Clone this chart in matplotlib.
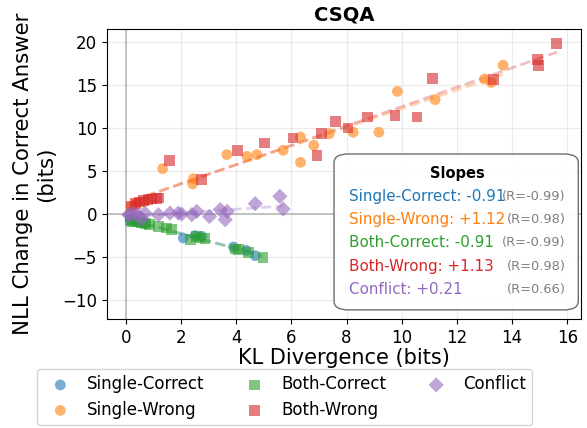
import matplotlib
matplotlib.use("Agg")
import matplotlib.pyplot as plt
import numpy as np
from matplotlib.patches import FancyBboxPatch

# data (KL in bits, NLL change in bits)
sc_x = [0.15, 0.3, 0.5, 0.7, 2.08, 2.51, 2.75, 3.9, 4.36, 4.69]
sc_y = [-0.7, -0.85, -1.0, -1.1, -2.8, -2.52, -2.6, -3.84, -4.23, -4.85]

sw_x = [0.2, 0.4, 0.7, 1.33, 2.45, 2.42, 3.66, 4.39, 4.75, 5.7, 6.33, 6.33, 6.81,
        7.37, 8.24, 9.17, 9.84, 11.21, 13.0, 13.24, 13.67]
sw_y = [0.9, 1.2, 1.5, 5.27, 4.1, 3.5, 6.9, 6.7, 6.9, 7.4, 8.95, 6.0, 7.98,
        9.34, 9.5, 9.5, 14.26, 13.3, 15.7, 15.3, 17.3]

bc_x = [0.15, 0.25, 0.4, 0.55, 0.7, 0.87, 1.18, 1.48, 1.66, 2.33, 2.57, 2.69, 2.87,
        3.96, 4.09, 4.45, 4.97]
bc_y = [-0.75, -0.86, -0.9, -1.0, -1.1, -1.2, -1.44, -1.63, -1.8, -2.99, -2.6, -2.8,
        -2.87, -4.07, -4.15, -4.46, -5.04]

bw_x = [0.2, 0.35, 0.5, 0.65, 0.8, 0.95, 1.1, 1.2, 1.58, 2.75, 4.05, 5.02, 6.06,
        6.93, 7.08, 7.6, 8.05, 8.75, 9.75, 10.55, 11.12, 13.32, 14.91, 14.96, 15.62]
bw_y = [0.9, 1.2, 1.4, 1.6, 1.7, 1.75, 1.8, 1.85, 6.24, 3.99, 7.36, 8.25, 8.83,
        6.78, 9.4, 10.77, 10.0, 11.27, 11.47, 11.27, 15.73, 15.6, 17.94, 17.28, 19.8]

cf_x = [0.1, 0.15, 0.3, 0.45, 0.57, 0.69, 1.18, 1.6, 1.9, 2.02, 2.39, 2.57, 3.03,
        3.42, 3.6, 3.67, 4.69, 5.58, 5.7]
cf_y = [-0.1, -0.08, 0.1, -0.2, -0.58, 0.1, -0.1, 0.1, 0.1, 0.0, -0.08, 0.3, -0.3,
        0.5, -0.66, 0.3, 1.2, 2.05, 0.58]

names = ["Single-Correct", "Single-Wrong", "Both-Correct", "Both-Wrong", "Conflict"]
slopes = ["-0.91", "+1.12", "-0.91", "+1.13", "+0.21"]
r_vals = ["-0.99", "0.98", "-0.99", "0.98", "0.66"]

colors = ["#1f77b4", "#ff7f0e", "#2ca02c", "#d62728", "#9467bd"]
markers = ["o", "o", "s", "s", "D"]
xs = [sc_x, sw_x, bc_x, bw_x, cf_x]
ys = [sc_y, sw_y, bc_y, bw_y, cf_y]

fig = plt.figure(figsize=(5.87, 4.28), dpi=100)
ax = fig.add_axes([0.182, 0.255, 0.808, 0.677])

ax.axhline(0, color="gray", lw=1.3, alpha=0.5, zorder=1)
ax.axvline(0, color="gray", lw=1.3, alpha=0.5, zorder=1)

for i in range(5):
    x = np.array(xs[i])
    y = np.array(ys[i])
    ax.scatter(x, y, s=60, c=colors[i], marker=markers[i], alpha=0.6,
               edgecolors="none", label=names[i], zorder=3)
    k, b = np.polyfit(x, y, 1)
    xx = np.linspace(x.min(), x.max(), 50)
    ax.plot(xx, k * xx + b, "--", color=colors[i], alpha=0.3, lw=2, zorder=2)

ax.set_xlim(-0.69, 16.5)
ax.set_ylim(-12.2, 21.5)
ax.set_xticks(range(0, 17, 2))
ax.set_yticks([-10, -5, 0, 5, 10, 15, 20])
ax.tick_params(labelsize=12)
ax.grid(True, alpha=0.25)
ax.set_title("CSQA", fontsize=14, fontweight="bold")
ax.set_xlabel("KL Divergence (bits)", fontsize=15, labelpad=1)
ax.set_ylabel("NLL Change in Correct Answer\n(bits)", fontsize=15.3)

# slope box
box = FancyBboxPatch((0.479, 0.031), 0.515, 0.538, transform=ax.transAxes,
                     boxstyle="round,pad=0,rounding_size=0.03",
                     facecolor="white", edgecolor="#666666", lw=1, alpha=0.95,
                     zorder=4)
ax.add_patch(box)
ax.text(0.74, 0.5, "Slopes", transform=ax.transAxes, ha="center", va="center",
        fontsize=10.5, fontweight="bold", zorder=5)
for i in range(5):
    yy = 0.422 - i * 0.08
    ax.text(0.511, yy, names[i] + ": " + slopes[i], transform=ax.transAxes,
            ha="left", va="center", fontsize=10.9, color=colors[i], zorder=5)
    ax.text(0.968, yy, "(R=" + r_vals[i] + ")", transform=ax.transAxes,
            ha="right", va="center", fontsize=9.4, color="gray", zorder=5)

handles, labels = ax.get_legend_handles_labels()
fig.legend(handles, labels, loc="lower center", bbox_to_anchor=(0.485, 0.002),
           ncol=3, fontsize=12, frameon=True, columnspacing=2.0,
           handletextpad=0.6, borderpad=0.4, labelspacing=0.45,
           borderaxespad=0.1)

fig.savefig("out.png", dpi=100)
